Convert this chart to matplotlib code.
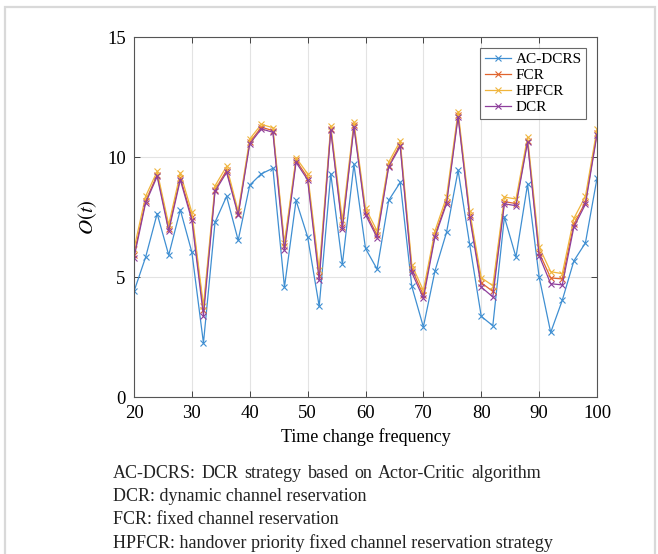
import numpy as np
import matplotlib.pyplot as plt
from matplotlib.patches import Rectangle

# ------------------------------------------------------------
# data
# ------------------------------------------------------------
freq = list(range(20, 101, 2))

ac_dcrs = [4.40, 5.82, 7.64, 5.91, 7.80, 6.03, 2.25, 7.28, 8.36, 6.53,
           8.83, 9.30, 9.53, 4.58, 8.19, 6.67, 3.78, 9.30, 5.53, 9.69,
           6.19, 5.33, 8.19, 8.94, 4.61, 2.92, 5.25, 6.86, 9.44, 6.36,
           3.36, 2.97, 7.50, 5.83, 8.86, 5.00, 2.69, 4.03, 5.67, 6.42,
           9.11]

fcr = [5.92, 8.16, 9.26, 7.02, 9.14, 7.48, 3.62, 8.64, 9.44, 7.64,
       10.62, 11.24, 11.10, 6.30, 9.86, 9.14, 5.06, 11.18, 7.10, 11.32,
       7.70, 6.74, 9.64, 10.52, 5.34, 4.24, 6.76, 8.14, 11.74, 7.58,
       4.76, 4.40, 8.14, 8.06, 10.68, 6.02, 4.96, 4.92, 7.20, 8.12,
       11.00]

hpfcr = [6.17, 8.36, 9.40, 7.18, 9.33, 7.69, 3.80, 8.80, 9.61, 7.74,
         10.75, 11.36, 11.22, 6.42, 9.97, 9.30, 5.28, 11.30, 7.36, 11.44,
         7.87, 6.92, 9.78, 10.67, 5.50, 4.44, 6.92, 8.33, 11.89, 7.75,
         4.97, 4.64, 8.33, 8.25, 10.83, 6.25, 5.22, 5.14, 7.44, 8.36,
         11.17]

dcr = [5.80, 8.08, 9.19, 6.92, 9.05, 7.36, 3.39, 8.57, 9.36, 7.58,
       10.55, 11.17, 11.03, 6.11, 9.78, 9.05, 4.86, 11.11, 7.00, 11.25,
       7.60, 6.64, 9.58, 10.44, 5.19, 4.11, 6.67, 8.05, 11.67, 7.50,
       4.58, 4.17, 8.05, 7.97, 10.61, 5.89, 4.72, 4.67, 7.08, 8.03,
       10.93]

series = [
    ("AC-DCRS", ac_dcrs, "#3f8fd2"),
    ("FCR", fcr, "#e0642e"),
    ("HPFCR", hpfcr, "#f0b53c"),
    ("DCR", dcr, "#8e3f9c"),
]

captions = [
    "AC-DCRS: DCR strategy based on Actor-Critic algorithm",
    "DCR: dynamic channel reservation",
    "FCR: fixed channel reservation",
    "HPFCR: handover priority fixed channel reservation strategy",
]

plt.rcParams['font.family'] = ['Liberation Serif', 'DejaVu Serif']
plt.rcParams['mathtext.fontset'] = 'stix'

fig = plt.figure(figsize=(6.58, 5.54), dpi=100)
W, H = 658, 554

# light frame around the figure (open at the bottom)
fig.add_artist(Rectangle((5 / W, -0.05), 650 / W, 1 - 7 / H + 0.05,
                         transform=fig.transFigure, fill=False,
                         edgecolor="#d9d9d9", linewidth=1.6))

ax = fig.add_axes([134 / W, 1 - 397 / H, 463 / W, 360 / H])

for name, vals, col in series:
    ax.plot(freq, vals, color=col, marker="x", markersize=5,
            linewidth=0.9, markeredgewidth=0.8, label=name)

ax.set_xlim(20, 100)
ax.set_ylim(0, 15)
ax.set_xticks(np.arange(20, 101, 10))
ax.set_yticks([0, 5, 10, 15])
ax.tick_params(direction="in", top=True, right=True, labelsize=13.5,
               length=4, width=0.7, color="#444444", pad=6)
ax.grid(True, color="#e3e3e3", linewidth=0.8)
ax.set_axisbelow(True)
for sp in ax.spines.values():
    sp.set_color("#555555")
    sp.set_linewidth(0.8)

ax.set_xlabel("Time change frequency", fontsize=13, labelpad=4)
ax.set_ylabel("$O(t)$", fontsize=15, labelpad=6)

leg = ax.legend(loc="upper right", fontsize=11, frameon=True, fancybox=False,
                borderaxespad=0.7, handlelength=1.7, handletextpad=0.3,
                labelspacing=0.15, borderpad=0.3)
leg.get_frame().set_edgecolor("#444444")
leg.get_frame().set_linewidth(0.8)

# caption lines; the first one is spread out to a fixed right edge
renderer = fig.canvas.get_renderer()
for i, txt in enumerate(captions):
    y = 1 - (473 + i * 23.5) / H
    if i == 0:
        words = txt.split()
        widths = []
        for w in words:
            t = fig.text(0, 0, w, fontsize=13)
            widths.append(t.get_window_extent(renderer).width)
            t.remove()
        gap = (541 - 113 - sum(widths)) / (len(words) - 1)
        x = 113
        for w, wd in zip(words, widths):
            fig.text(x / W, y, w, fontsize=13, va="center", ha="left",
                     color="#222222")
            x += wd + gap
    else:
        fig.text(113 / W, y, txt, fontsize=13, va="center", ha="left",
                 color="#222222")

fig.savefig("out.png", dpi=100)
